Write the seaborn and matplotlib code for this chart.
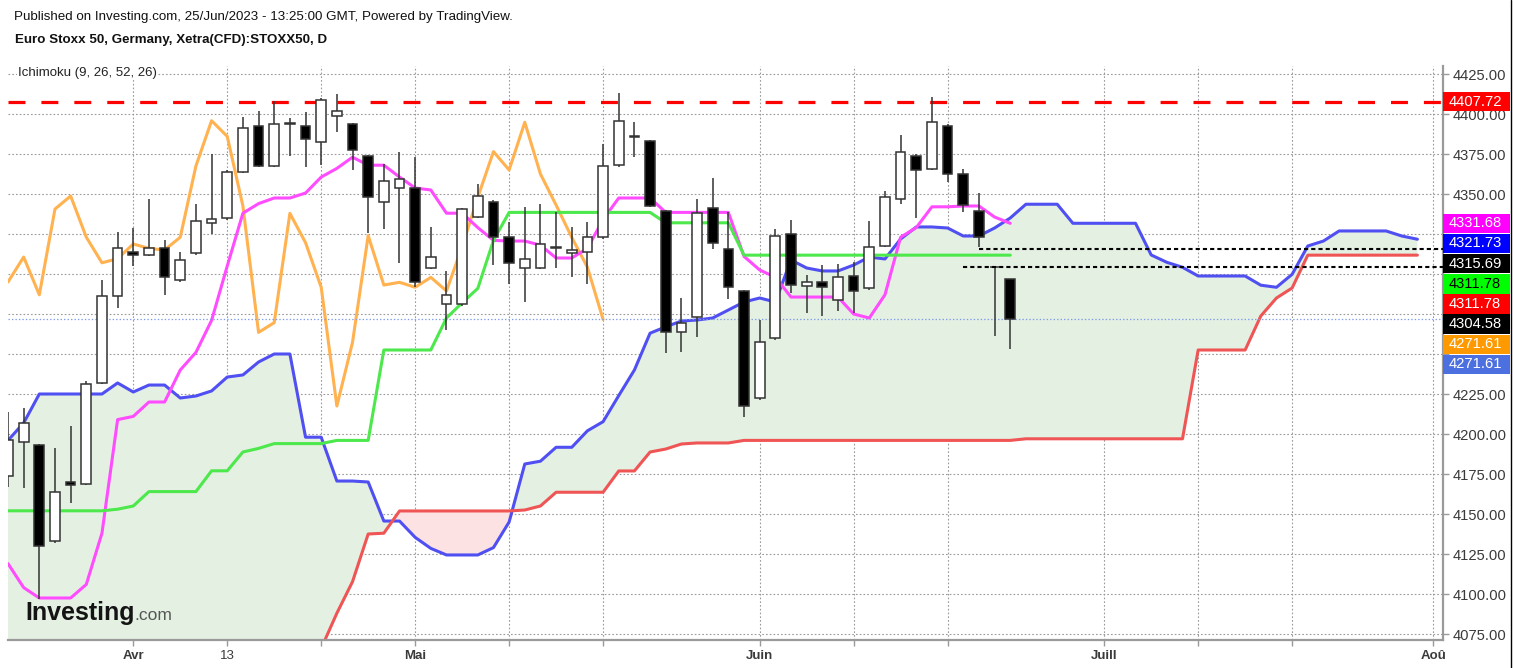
import matplotlib
matplotlib.use("Agg")
import matplotlib.pyplot as plt
import matplotlib.transforms as mtransforms
from matplotlib.patches import Rectangle
import numpy as np
import pandas as pd
import seaborn as sns

# Euro Stoxx 50 daily candles, 22/Mar/2023 -> 23/Jun/2023 (x = trading day index)
opens = [4174, 4195, 4193, 4133, 4170, 4169, 4232, 4286, 4313.5, 4312,
         4316, 4296, 4313, 4332, 4335, 4364, 4392.7, 4367.5, 4394, 4392.5,
         4382.5, 4399, 4393.75, 4373.75, 4345, 4354, 4353.75, 4304, 4281, 4281,
         4335.8, 4345, 4323.3, 4304, 4304, 4317, 4313, 4313.75, 4323, 4368,
         4385.6, 4383.3, 4339.4, 4263.5, 4272.9, 4341.25, 4315.4, 4289.6, 4222.3, 4259.8,
         4324.8, 4292.5, 4295.2, 4283.75, 4299, 4291, 4317.7, 4346.7, 4374, 4365.6,
         4392.7, 4362.3, 4339.6, 4304.6, 4296.7]
highs = [4214, 4216, 4194, 4191, 4205, 4233, 4296, 4326, 4329, 4347,
         4321, 4314, 4344, 4375, 4365, 4398, 4402, 4408, 4397.5, 4401,
         4410, 4412.5, 4394.5, 4374.5, 4369, 4376.5, 4373, 4329.4, 4302, 4341.5,
         4356, 4346, 4332.7, 4342, 4344, 4338.75, 4329.6, 4332.7, 4381, 4413.3,
         4395, 4384, 4340, 4285, 4346.9, 4359.8, 4339, 4290, 4271.25, 4328,
         4333.75, 4299.4, 4305.6, 4306.25, 4307.3, 4333.3, 4352.1, 4386.9, 4375, 4410.8,
         4393.5, 4365.6, 4350.4, 4305, 4297]
lows = [4167, 4166, 4097, 4132, 4157, 4168, 4231, 4279, 4305, 4311,
        4287, 4295, 4312, 4325, 4334, 4363, 4367, 4367, 4374, 4367,
        4368, 4389, 4365, 4325.6, 4328, 4307, 4292, 4303, 4265, 4280,
        4335, 4305.6, 4294, 4282.5, 4303, 4303.75, 4298.3, 4293.75, 4322, 4367,
        4373.3, 4342, 4250.8, 4251.4, 4260.8, 4315.4, 4284.2, 4210.8, 4221, 4259,
        4287.9, 4275.8, 4273.75, 4276.9, 4275.4, 4290, 4317, 4343.75, 4334.8, 4365,
        4357.3, 4339, 4317.1, 4261.4, 4253]
closes = [4196, 4207, 4130, 4164, 4168, 4231, 4286, 4316, 4312, 4316,
          4298, 4309, 4333, 4334.5, 4364, 4391, 4367.5, 4394, 4394.5, 4384.6,
          4408.7, 4402, 4377.5, 4348, 4358.3, 4359.6, 4295, 4310.6, 4287, 4340.6,
          4348.75, 4323, 4307, 4309.6, 4318.75, 4316, 4315, 4323, 4367.5, 4395.8,
          4386, 4342.5, 4263.5, 4269.6, 4337.9, 4319.6, 4291.7, 4217.5, 4257.3, 4324,
          4293.1, 4294.8, 4291.7, 4297.9, 4289.4, 4317.1, 4347.9, 4376.5, 4365, 4394.8,
          4362.5, 4343.1, 4322.9, 4304.2, 4271.61]

# Ichimoku (9, 26, 52, 26) lines
tenkan = [4119, 4104, 4097.5, 4097.5, 4097.5, 4106, 4138, 4209, 4211, 4220,
          4220, 4240, 4251, 4271, 4305, 4338, 4344, 4347.5, 4347.5, 4350.6,
          4360.6, 4366, 4373, 4368, 4368, 4360.6, 4353.75, 4352.5, 4338, 4338,
          4329, 4321, 4320.6, 4320.6, 4318, 4310, 4310, 4316, 4334, 4347.5,
          4347.5, 4347.5, 4338.5, 4338.5, 4338.5, 4338.5, 4338.5, 4311, 4302.5, 4298,
          4285.6, 4285.6, 4285.6, 4285.6, 4275, 4272.5, 4287, 4323, 4329, 4342,
          4342, 4342.5, 4342.5, 4335.6, 4331.68]
kijun = [4152] * 7 + [4153, 4155] + [4164] * 4 + [4177] * 2 + [4188.75, 4191] \
    + [4194] * 4 + [4196] * 3 + [4252.5] * 4 + [4272.5, 4282, 4291, 4321] \
    + [4338.5] * 10 + [4332] * 5 + [4311.78] * 18
senkou_a = [4196, 4206.9, 4225, 4225, 4225, 4225, 4225, 4231.9, 4226.25, 4230.6,
            4230.6, 4222.5, 4223.75, 4226.9, 4235.6, 4236.9, 4245, 4250, 4250, 4198,
            4198, 4170.6, 4170.6, 4170, 4145.6, 4145.6, 4135.4, 4128.5, 4124.4, 4124.4,
            4124.4, 4129, 4145, 4181.25, 4183, 4191.7, 4191.7, 4202, 4207.7, 4224,
            4240, 4263, 4267, 4270.6, 4271.25, 4272.5, 4277.5, 4282.5, 4285, 4282.5,
            4308.75, 4303.75, 4301.9, 4301.9, 4305.6, 4310.6, 4309.4, 4321.9, 4329.4, 4329.4,
            4328.75, 4323.75, 4323.75, 4328.75, 4335, 4343.6, 4343.6, 4343.6, 4331.7, 4331.7,
            4331.7, 4331.7, 4331.7, 4311.9, 4307.3, 4304.2, 4298.75, 4298.75, 4298.75, 4298.75,
            4293, 4291.7, 4299.8, 4317.5, 4320.6, 4326.9, 4326.9, 4326.9, 4326.9, 4323.75,
            4321.73]
senkou_b = [4040] * 20 + [4066, 4088, 4107.7, 4137.5, 4138] + [4151.9] * 8 \
    + [4152.5, 4155] + [4163.6] * 4 + [4176.9] * 2 + [4188.75, 4190.6, 4193.75] \
    + [4194.4] * 3 + [4196] * 18 + [4197] * 11 + [4252.5] * 4 \
    + [4273.75, 4285, 4291.25] + [4311.78] * 8
lag = 26

grid_days = [8, 14, 20, 26, 32, 38, 48, 54, 60, 70, 76, 82, 91]
day_labels = ["Avr", "13", "", "Mai", "", "", "Juin", "", "", "Juill", "", "", "Aoû"]
y_ticks = np.arange(4075, 4426, 25)

resistance = 4407.72
ray_levels = [4315.69, 4304.58]
ray_start = [62, 61]

sns.set_theme(style="white")
plt.rcParams["font.family"] = ["Liberation Sans", "DejaVu Sans"]
plt.rcParams["lines.scale_dashes"] = False

W, H = 1513, 668
fig = plt.figure(figsize=(W / 100, H / 100), dpi=100)
ax_l, ax_r, ax_b, ax_t = 8, 1443, 640, 66
ax = fig.add_axes([ax_l / W, 1 - ax_b / H, (ax_r - ax_l) / W, (ax_b - ax_t) / H])
ax.set_facecolor("white")

days = np.arange(len(closes))
cloud_days = np.arange(len(senkou_a))
sa = np.array(senkou_a)
sb = np.array(senkou_b)

# cloud
ax.fill_between(cloud_days, sa, sb, where=sa >= sb, interpolate=True,
                color="#e4f0e2", lw=0, zorder=1)
ax.fill_between(cloud_days, sa, sb, where=sa < sb, interpolate=True,
                color="#fde2e4", lw=0, zorder=1)

sns.lineplot(x=cloud_days, y=senkou_a, color="#4f4ff2", linewidth=2.2, ax=ax, zorder=2)
sns.lineplot(x=cloud_days, y=senkou_b, color="#ef5555", linewidth=2.2, ax=ax, zorder=2)
sns.lineplot(x=days[:len(closes) - lag], y=closes[lag:], color="#ffb24f",
             linewidth=2.2, ax=ax, zorder=3)
sns.lineplot(x=days, y=tenkan, color="#ff4cff", linewidth=2.2, ax=ax, zorder=3)
sns.lineplot(x=days, y=kijun, color="#4ce84c", linewidth=2.2, ax=ax, zorder=3.2)

# resistance and horizontal rays
ax.axhline(resistance, color="#ff0000", lw=2.3, dashes=(12.2, 11.5), zorder=3.5)
ax.axhline(closes[-1], color="#7f9ceb", lw=0.9, dashes=(1, 1.5), zorder=3.5)
for lvl, start in zip(ray_levels, ray_start):
    ax.plot([start, 100], [lvl, lvl], color="black", lw=1.5, dashes=(3, 2.2), zorder=6)

# candles
up = np.array(closes) >= np.array(opens)
ax.vlines(days, lows, highs, color="#333333", lw=1.1, zorder=4)
body_low = np.minimum(opens, closes)
body_h = np.maximum(np.abs(np.array(closes) - np.array(opens)), 0.4)
ax.bar(days, body_h, bottom=body_low, width=0.62,
       color=np.where(up, "white", "black"), edgecolor="#333333", linewidth=1.1, zorder=5)

# price tags on the right scale, stacked like the original
tag_values = [resistance, tenkan[-1], senkou_a[-1], ray_levels[0], kijun[-1],
              senkou_b[-1], ray_levels[1], closes[-1], closes[-1]]
tag_colors = ["#ff0000", "#ff00ff", "#0000ff", "#000000", "#00ff00",
              "#ff0000", "#000000", "#ff9900", "#4d70e0"]
tag_text = ["white", "white", "white", "white", "black",
            "white", "white", "white", "white"]
step = 12.6
tag_pos = []
for val in tag_values:
    tag_pos.append(val if not tag_pos else min(val, tag_pos[-1] - step))

# axes
ax.set_xlim(0, (ax_r - ax_l) / 15.66)
ax.set_ylim(4425 - (ax_b - 74) / 1.6, 4425 + (74 - ax_t) / 1.6)
ax.set_xticks(grid_days)
ax.set_xticklabels(day_labels)
ax.set_yticks(y_ticks)
# scale labels hidden under a price tag are left blank, as on the original
ax.set_yticklabels(["" if min(abs(v - p) for p in tag_pos) < 7 else f"{v:.2f}"
                    for v in y_ticks])
ax.yaxis.tick_right()
ax.grid(True, color="#9a9a9a", lw=0.8, dashes=(1.2, 1.5), zorder=0.5)
ax.set_axisbelow(True)
for side in ("left", "top"):
    ax.spines[side].set_visible(False)
for side in ("bottom", "right"):
    ax.spines[side].set_color("#9a9a9a")
    ax.spines[side].set_linewidth(1.6)
ax.tick_params(axis="y", right=True, length=4, width=1, color="#9a9a9a",
               labelsize=10.6, labelcolor="#3a3a3a", pad=3)
ax.tick_params(axis="x", bottom=True, length=4, width=1, color="#9a9a9a",
               labelsize=9.5, labelcolor="#3a3a3a", pad=3)
for lab in ax.get_xticklabels():
    if lab.get_text() != "13":
        lab.set_fontweight("bold")

trans = mtransforms.blended_transform_factory(ax.transAxes, ax.transData)
ax_w = ax_r - ax_l
for val, ypos, fc, tc in zip(tag_values, tag_pos, tag_colors, tag_text):
    ax.add_patch(Rectangle((1.0, ypos - 6.1), 67 / ax_w, 12.2, transform=trans,
                           facecolor=fc, edgecolor="none", clip_on=False, zorder=10))
    ax.text(1.0 + 6 / ax_w, ypos, f"{val:.2f}", transform=trans, color=tc,
            fontsize=10.6, va="center", ha="left", clip_on=False, zorder=11)

# header texts
fig.text(14 / W, 1 - 17 / H, "Published on Investing.com, 25/Jun/2023 - 13:25:00 GMT, "
         "Powered by TradingView.", fontsize=9.65, color="#111111", va="center")
fig.text(15 / W, 1 - 40 / H, "Euro Stoxx 50, Germany, Xetra(CFD):STOXX50, D",
         fontsize=9.6, fontweight="bold", color="#111111", va="center")
fig.text(18 / W, 1 - 73 / H, "Ichimoku (9, 26, 52, 26)", fontsize=9.5, color="#222222",
         va="center", bbox=dict(facecolor="white", edgecolor="none", pad=1))

# watermark
logo = fig.text(25 / W, 1 - 620 / H, "Investing", fontsize=18, fontweight="bold",
                color="#141414", va="baseline")
fig.canvas.draw()
bb = logo.get_window_extent()
fig.text(bb.x1 / W, 1 - 620 / H, ".com", fontsize=12.5, color="#555555", va="baseline")

fig.add_artist(plt.Line2D([1511 / W, 1511 / W], [0, 1], color="black", lw=1))

fig.savefig("out.png", dpi=100)
